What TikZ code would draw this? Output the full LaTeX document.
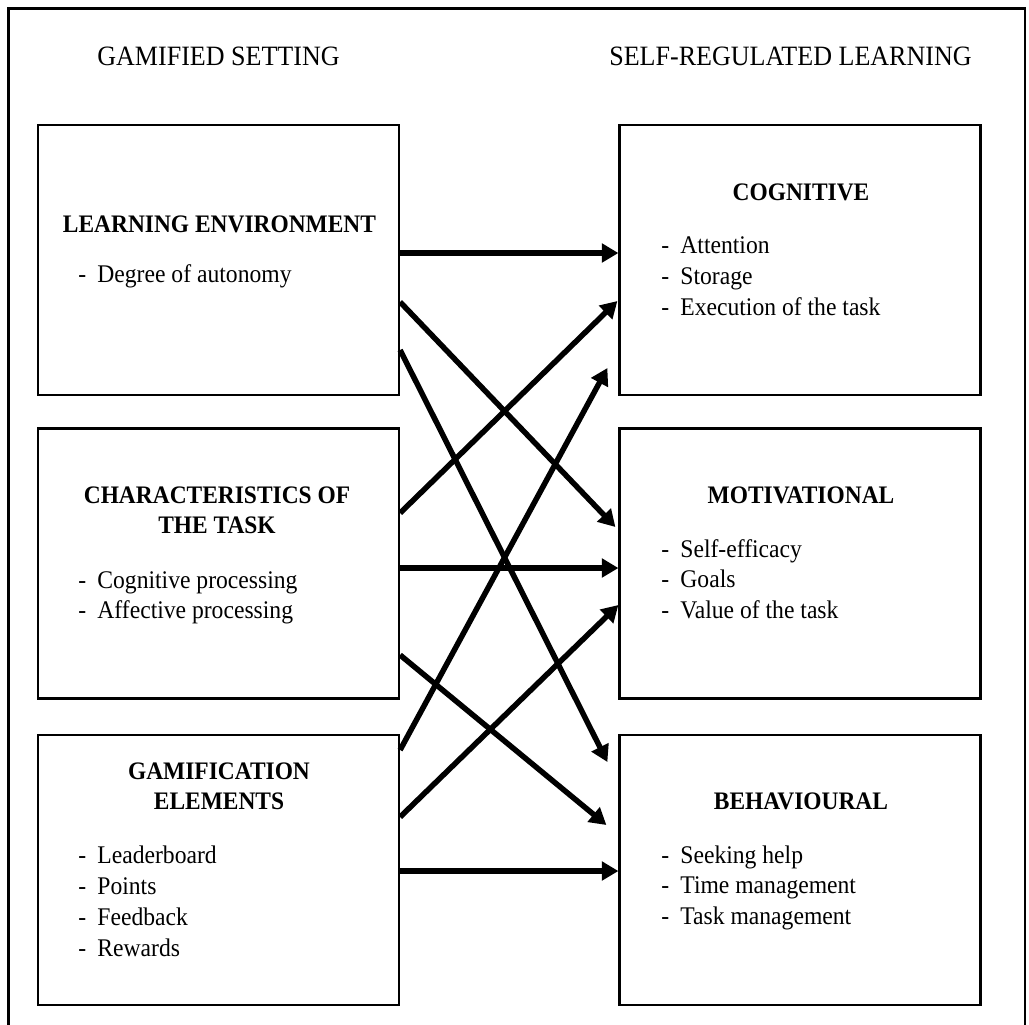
\documentclass[tikz,border=0pt]{standalone}
\usepackage{fontspec}
\setmainfont{Liberation Serif}[FakeStretch=0.93]
\usetikzlibrary{arrows.meta}

\tikzset{
    box/.style={draw, line width=1.1pt, minimum width=180.5pt, minimum height=135pt, inner sep=0pt},
    toptitle/.style={anchor=base, inner sep=0pt, font=\fontsize{14}{16}\selectfont},
    boxtitle/.style={anchor=base, inner sep=0pt, font=\fontsize{12.6}{15}\selectfont\bfseries},
    item/.style={anchor=base west, inner sep=0pt, font=\fontsize{12.7}{15}\selectfont},
    link/.style={line width=2.75pt, -{Triangle[length=8.3pt,width=9.2pt]}}
}
\newcommand{\dashitem}[1]{\makebox[9.5pt][l]{-}#1}

\begin{document}
\begin{tikzpicture}[x=0.5pt, y=-0.5pt]
        \useasboundingbox (0,0) rectangle (1029,1024);
        \draw[line width=1.3pt] (8.5,8.5) rectangle (1025,1060);

        \node (gs) at (218.5,65) [toptitle] {GAMIFIED SETTING};
        \node (srl) at (790.5,65) [toptitle] {SELF-REGULATED LEARNING};

        \node (le) at (218.5,260) [box] {};
        \node (ct) at (218.5,563.5) [box] {};
        \node (ge) at (218.5,870) [box] {};
        \node (cog) at (800,260) [box] {};
        \node (mot) at (800,563.5) [box] {};
        \node (beh) at (800,870) [box] {};

        \node (le-t) at (219.5,232) [boxtitle] {LEARNING ENVIRONMENT};
        \node (le-1) at (78,282) [item] {\dashitem{Degree of autonomy}};

        \node (ct-t1) at (217,503) [boxtitle] {CHARACTERISTICS OF};
        \node (ct-t2) at (217,533) [boxtitle] {THE TASK};
        \foreach \t [count=\i from 0] in {Cognitive processing, Affective processing}
            \node (ct-\i) at (78,588+30.5*\i) [item] {\dashitem{\t}};

        \node (ge-t1) at (219,779) [boxtitle] {GAMIFICATION};
        \node (ge-t2) at (219,809) [boxtitle] {ELEMENTS};
        \foreach \t [count=\i from 0] in {Leaderboard, Points, Feedback, Rewards}
            \node (ge-\i) at (78,863+31.3*\i) [item] {\dashitem{\t}};

        \node (cog-t) at (801,200) [boxtitle] {COGNITIVE};
        \foreach \t [count=\i from 0] in {Attention, Storage, Execution of the task}
            \node (cog-\i) at (661,253+31*\i) [item] {\dashitem{\t}};

        \node (mot-t) at (801,503) [boxtitle] {MOTIVATIONAL};
        \foreach \t [count=\i from 0] in {Self-efficacy, Goals, Value of the task}
            \node (mot-\i) at (661,557+30.5*\i) [item] {\dashitem{\t}};

        \node (beh-t) at (801,809) [boxtitle] {BEHAVIOURAL};
        \foreach \t [count=\i from 0] in {Seeking help, Time management, Task management}
            \node (beh-\i) at (661,863+30.5*\i) [item] {\dashitem{\t}};

        \draw[link] ([shift={(0,-7)}]le.east) -- ([shift={(0,-7)}]cog.west);
        \draw[link] ([shift={(0,42)}]le.east) -- ([shift={(-3,-36.5)}]mot.west);
        \draw[link] ([shift={(0,90)}]le.east) -- ([shift={(-11,-108)}]beh.west);
        \draw[link] ([shift={(0,-50.5)}]ct.east) -- ([shift={(-1,41)}]cog.west);
        \draw[link] ([shift={(0,4.5)}]ct.east) -- ([shift={(0,4.5)}]mot.west);
        \draw[link] ([shift={(0,91.5)}]ct.east) -- ([shift={(-12,-45)}]beh.west);
        \draw[link] ([shift={(0,-120)}]ge.east) -- ([shift={(-11,108)}]cog.west);
        \draw[link] ([shift={(0,-53)}]ge.east) -- ([shift={(0,41.5)}]mot.west);
        \draw[link] ([shift={(0,1)}]ge.east) -- ([shift={(0,1)}]beh.west);

    \end{tikzpicture}
\end{document}
